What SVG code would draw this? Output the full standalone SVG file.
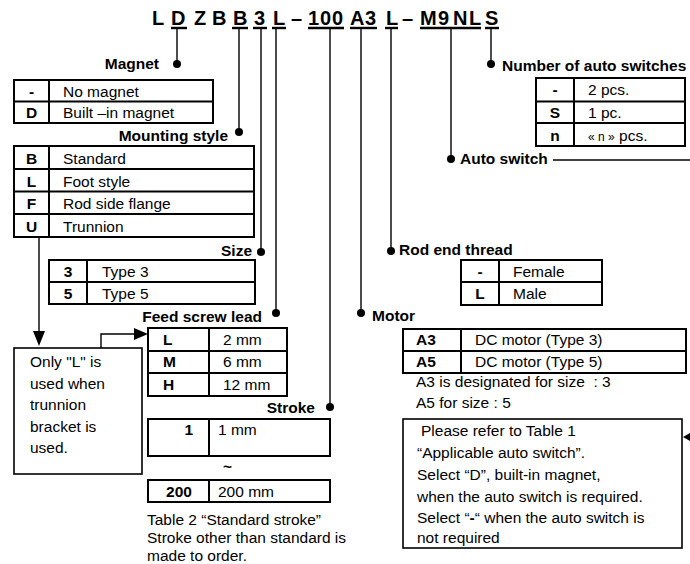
<svg xmlns="http://www.w3.org/2000/svg" width="690" height="564" viewBox="0 0 690 564">
<style>
text{font-family:"Liberation Sans",Arial,sans-serif;fill:#000}
.hd{font-size:20px;font-weight:bold}
.lb{font-size:15.5px;font-weight:bold}
.k{font-size:15.5px;font-weight:bold}
.v{font-size:15.5px}
.c{text-anchor:middle}
.e{text-anchor:end}
.tb{fill:none;stroke:#000;stroke-width:2}
.bx{fill:none;stroke:#000;stroke-width:1.6}
.ln{fill:none;stroke:#000;stroke-width:1.4}
.ul{stroke:#000;stroke-width:2.4}
.dot{fill:#000}
</style>
<rect width="690" height="564" fill="#fff"/>
<g id="header">
<text class="hd" y="25" x="152">L</text>
<text class="hd" y="25" x="171">D</text>
<text class="hd" y="25" x="194">Z</text>
<text class="hd" y="25" x="212">B</text>
<text class="hd" y="25" x="233">B</text>
<text class="hd" y="25" x="254">3</text>
<text class="hd" y="25" x="273">L</text>
<text class="hd" y="25" x="291">–</text>
<text class="hd" y="25" x="308 320 332">100</text>
<text class="hd" y="25" x="350 365">A3</text>
<text class="hd" y="25" x="386">L</text>
<text class="hd" y="25" x="402">–</text>
<text class="hd" y="25" x="420 438 453 469">M9NL</text>
<text class="hd" y="25" x="485">S</text>
<g>
<line class="ul" x1="171" y1="28" x2="187" y2="28"/>
<line class="ul" x1="232" y1="28" x2="248" y2="28"/>
<line class="ul" x1="253" y1="28" x2="267" y2="28"/>
<line class="ul" x1="272" y1="28" x2="286" y2="28"/>
<line class="ul" x1="308" y1="28" x2="344" y2="28"/>
<line class="ul" x1="350" y1="28" x2="377" y2="28"/>
<line class="ul" x1="385" y1="28" x2="398" y2="28"/>
<line class="ul" x1="420" y1="28" x2="481" y2="28"/>
<line class="ul" x1="485" y1="28" x2="499" y2="28"/>
</g>
</g>
<g id="connectors">
<line class="ln" x1="177" y1="29" x2="177" y2="64"/>
<line class="ln" x1="239" y1="29" x2="239" y2="132"/>
<line class="ln" x1="261" y1="29" x2="261" y2="252"/>
<line class="ln" x1="276" y1="29" x2="276" y2="313"/>
<line class="ln" x1="330" y1="29" x2="330" y2="407"/>
<line class="ln" x1="361" y1="29" x2="361" y2="313"/>
<line class="ln" x1="391" y1="29" x2="391" y2="251"/>
<line class="ln" x1="451" y1="29" x2="451" y2="159"/>
<line class="ln" x1="491" y1="29" x2="491" y2="64"/>
<circle class="dot" cx="177" cy="64" r="4"/>
<circle class="dot" cx="239" cy="132" r="4"/>
<circle class="dot" cx="261" cy="252" r="4"/>
<circle class="dot" cx="276" cy="313" r="4"/>
<circle class="dot" cx="330" cy="407" r="4"/>
<circle class="dot" cx="361" cy="313" r="4"/>
<circle class="dot" cx="391" cy="251" r="4"/>
<circle class="dot" cx="451" cy="159" r="4"/>
<circle class="dot" cx="491" cy="64" r="4"/>
<line class="ln" x1="553" y1="160" x2="690" y2="160"/>
<polygon points="683,437 690,433 690,441" fill="#000"/>
<line class="ln" x1="39" y1="237" x2="39" y2="332"/>
<polygon points="39,346 33,331 45,331" fill="#000"/>
<polyline class="ln" points="101,348 101,334 135,334"/>
<polygon points="148,334 134,328 134,340" fill="#000"/>
</g>
<g id="magnet">
<text class="lb e" x="159" y="69">Magnet</text>
<rect class="tb" x="14" y="80" width="199" height="43"/>
<line class="tb" x1="14" y1="101.5" x2="213" y2="101.5"/>
<line class="tb" x1="49" y1="80" x2="49" y2="123"/>
<text class="k c" x="31.5" y="97">-</text><text class="v" x="63" y="97">No magnet</text>
<text class="k c" x="31.5" y="118">D</text><text class="v" x="63" y="118">Built –in magnet</text>
</g>
<g id="mounting">
<text class="lb e" x="228" y="141">Mounting style</text>
<rect class="tb" x="14" y="146" width="240" height="91"/>
<line class="tb" x1="14" y1="169" x2="254" y2="169"/>
<line class="tb" x1="14" y1="191.5" x2="254" y2="191.5"/>
<line class="tb" x1="14" y1="214" x2="254" y2="214"/>
<line class="tb" x1="49" y1="146" x2="49" y2="237"/>
<text class="k c" x="31.5" y="164">B</text><text class="v" x="63" y="164">Standard</text>
<text class="k c" x="31.5" y="187">L</text><text class="v" x="63" y="187">Foot style</text>
<text class="k c" x="31.5" y="209">F</text><text class="v" x="63" y="209">Rod side flange</text>
<text class="k c" x="31.5" y="232">U</text><text class="v" x="63" y="232">Trunnion</text>
</g>
<g id="size">
<text class="lb e" x="252" y="256">Size</text>
<rect class="tb" x="49" y="260" width="206" height="44"/>
<line class="tb" x1="49" y1="282" x2="255" y2="282"/>
<line class="tb" x1="87" y1="260" x2="87" y2="304"/>
<text class="k c" x="68" y="277">3</text><text class="v" x="102" y="277">Type 3</text>
<text class="k c" x="68" y="299">5</text><text class="v" x="102" y="299">Type 5</text>
</g>
<g id="feed">
<text class="lb e" x="262" y="322">Feed screw lead</text>
<rect class="tb" x="148" y="328" width="139" height="68"/>
<line class="tb" x1="148" y1="351" x2="287" y2="351"/>
<line class="tb" x1="148" y1="373" x2="287" y2="373"/>
<line class="tb" x1="209" y1="328" x2="209" y2="396"/>
<text class="k" x="163" y="345">L</text><text class="v" x="223" y="345">2 mm</text>
<text class="k" x="163" y="367">M</text><text class="v" x="223" y="367">6 mm</text>
<text class="k" x="163" y="390">H</text><text class="v" x="223" y="390">12 mm</text>
</g>
<g id="trunnion-note">
<rect class="bx" x="14" y="348" width="128" height="126"/>
<text class="v" x="30" y="367">Only "L" is</text>
<text class="v" x="30" y="389">used when</text>
<text class="v" x="30" y="410">trunnion</text>
<text class="v" x="30" y="432">bracket is</text>
<text class="v" x="30" y="453">used.</text>
</g>
<g id="stroke">
<text class="lb e" x="315" y="413">Stroke</text>
<rect class="tb" x="148" y="419" width="182" height="37"/>
<line class="tb" x1="209" y1="419" x2="209" y2="456"/>
<text class="k e" x="193" y="435">1</text><text class="v" x="218" y="435">1 mm</text>
<text class="k" x="223" y="472">~</text>
<rect class="tb" x="148" y="480" width="182" height="22"/>
<line class="tb" x1="209" y1="480" x2="209" y2="502"/>
<text class="k c" x="179" y="497">200</text><text class="v" x="218" y="497">200 mm</text>
<text class="v" x="147" y="525">Table 2 “Standard stroke”</text>
<text class="v" x="147" y="543">Stroke other than standard is</text>
<text class="v" x="147" y="561">made to order.</text>
</g>
<g id="number">
<text class="lb" x="502" y="71">Number of auto switches</text>
<rect class="tb" x="536" y="78" width="149" height="68"/>
<line class="tb" x1="536" y1="101.5" x2="685" y2="101.5"/>
<line class="tb" x1="536" y1="123" x2="685" y2="123"/>
<line class="tb" x1="574" y1="78" x2="574" y2="146"/>
<text class="k c" x="555" y="95">-</text><text class="v" x="588" y="95">2 pcs.</text>
<text class="k c" x="555" y="118">S</text><text class="v" x="588" y="118">1 pc.</text>
<text class="k c" x="555" y="141">n</text><text class="v" x="588" y="141"><tspan font-size="12">« n »</tspan> pcs.</text>
</g>
<g id="autoswitch">
<text class="lb" x="460" y="164">Auto switch</text>
</g>
<g id="rodend">
<text class="lb" x="399" y="255">Rod end thread</text>
<rect class="tb" x="461" y="260" width="141" height="45"/>
<line class="tb" x1="461" y1="282" x2="602" y2="282"/>
<line class="tb" x1="499" y1="260" x2="499" y2="305"/>
<text class="k c" x="480" y="277">-</text><text class="v" x="513" y="277">Female</text>
<text class="k c" x="480" y="299">L</text><text class="v" x="513" y="299">Male</text>
</g>
<g id="motor">
<text class="lb" x="372" y="321">Motor</text>
<rect class="tb" x="403" y="329" width="283" height="44"/>
<line class="tb" x1="403" y1="351" x2="686" y2="351"/>
<line class="tb" x1="461" y1="329" x2="461" y2="373"/>
<text class="k" x="416" y="345">A3</text><text class="v" x="475" y="345">DC motor (Type 3)</text>
<text class="k" x="416" y="367">A5</text><text class="v" x="475" y="367">DC motor (Type 5)</text>
<text class="v" x="416" y="387" xml:space="preserve">A3 is designated for size  : 3</text>
<text class="v" x="416" y="408">A5 for size : 5</text>
</g>
<g id="autoswitch-note">
<rect class="bx" x="403" y="419" width="279" height="129"/>
<text class="v" x="421" y="436">Please refer to Table 1</text>
<text class="v" x="417" y="458">“Applicable auto switch”.</text>
<text class="v" x="417" y="480">Select “D”, built-in magnet,</text>
<text class="v" x="417" y="502">when the auto switch is required.</text>
<text class="v" x="417" y="523">Select “<tspan font-weight="bold">-</tspan>“ when the auto switch is</text>
<text class="v" x="417" y="543">not required</text>
</g>
</svg>
